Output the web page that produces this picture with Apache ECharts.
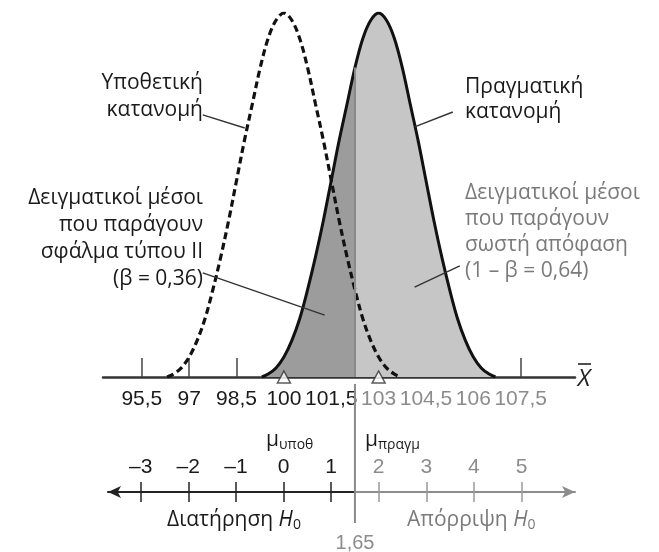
<!DOCTYPE html>
<html>
<head>
<meta charset="utf-8">
<script src="https://cdn.jsdelivr.net/npm/echarts@6/dist/echarts.min.js"></script>
<style>
  html, body { margin: 0; padding: 0; background: #fff; }
  #main { width: 659px; height: 552px; }
</style>
</head>
<body>
<div id="main"></div>
<script>
// υποθετική κατανομή (διακεκομμένη), μέσος 100
var hypX = [96.3, 96.5, 96.75, 97, 97.25, 97.5, 97.75, 98, 98.25, 98.5, 98.75, 99, 99.25, 99.5, 99.75, 100,
  100.25, 100.5, 100.75, 101, 101.25, 101.5, 101.75, 102, 102.25, 102.5, 102.75, 103, 103.25, 103.5, 103.7]
var hypY = [0, 0.8, 2.5, 5.5, 10, 16, 24, 33, 43, 54, 65, 75, 85, 93, 98, 100,
  98, 93, 85, 75, 65, 54, 43, 33, 24, 16, 10, 5.5, 2.5, 0.8, 0]
// πραγματική κατανομή (συνεχής), μέσος 103
var actX = [99.3, 99.5, 99.75, 100, 100.25, 100.5, 100.75, 101, 101.25, 101.5, 101.75, 102, 102.25, 102.5, 102.75, 103,
  103.25, 103.5, 103.75, 104, 104.25, 104.5, 104.75, 105, 105.25, 105.5, 105.75, 106, 106.25, 106.5, 106.7]
var actY = [0, 0.8, 2.5, 5.5, 10, 16, 24, 33, 43, 54, 65, 75, 85, 93, 98, 100,
  98, 93, 85, 75, 65, 54, 43, 33, 24, 16, 10, 5.5, 2.5, 0.8, 0]

var xTicks = [95.5, 97, 98.5, 100, 101.5, 103, 104.5, 106, 107.5]
var zLeft = [-3, -2, -1, 0, 1]
var zRight = [2, 3, 4, 5]
var means = [100, 103]
var critZ = 1.5        // where the line sits in the picture
var critLabel = '1,65'
var critX = 102.25     // same place on the X̄ scale (is in actX)

var myChart = echarts.init(document.getElementById('main'))

function zip(xs, ys) {
  return xs.map(function (x, i) { return [x, ys[i]] })
}

var all = zip(actX, actY)
var cut = actX.indexOf(critX)
var leftPart = all.slice(0, cut + 1)
var rightPart = all.slice(cut)

var numFont = 'Liberation Sans'
var txtFont = 'Open Sans'

function txt(x, y, s, align, color) {
  return {
    type: 'text', x: x, y: y,
    style: {
      text: s, fill: color || '#1a1a1a', font: '21px "' + txtFont + '"',
      textAlign: align, textVerticalAlign: 'middle'
    }
  }
}

// μ με δείκτη, H με δείκτη 0
function sub(x, y, main, low, color) {
  return {
    type: 'text', x: x, y: y,
    style: {
      text: '{h|' + main + '}{s|' + low + '}', textAlign: 'left', textVerticalAlign: 'middle',
      rich: {
        h: { fontSize: 21, lineHeight: 24, fontFamily: txtFont, fill: color },
        s: { fontSize: 14, lineHeight: 10, verticalAlign: 'bottom', fontFamily: txtFont, fill: color }
      }
    }
  }
}

function decision(x, y, word, color) {
  return {
    type: 'text', x: x, y: y,
    style: {
      text: '{a|' + word + ' }{h|H}{s|0}', textAlign: 'left', textVerticalAlign: 'middle',
      rich: {
        a: { fontSize: 21, lineHeight: 24, fontFamily: txtFont, fill: color },
        h: { fontSize: 21, lineHeight: 24, fontFamily: txtFont, fontStyle: 'italic', fill: color },
        s: { fontSize: 14, lineHeight: 10, verticalAlign: 'bottom', fontFamily: txtFont, fill: color }
      }
    }
  }
}

var zAxisBase = {
  type: 'value', position: 'top', splitLine: { show: false }
}

var option = {
  animation: false,
  grid: [
    { left: 103, width: 472, top: 13, height: 364, outerBoundsMode: 'none', containLabel: false },
    { left: 108, width: 247, top: 492, height: 30, outerBoundsMode: 'none', containLabel: false },
    { left: 355, width: 220, top: 492, height: 30, outerBoundsMode: 'none', containLabel: false },
    { left: 103, width: 472, top: 384, height: 139, outerBoundsMode: 'none', containLabel: false }
  ],
  xAxis: [
    {
      type: 'value', gridIndex: 0, min: 94.27, max: 109.22,
      axisLine: { onZero: false, lineStyle: { color: '#333', width: 2.5 } },
      axisTick: { inside: true, length: 19, customValues: xTicks, lineStyle: { color: '#444', width: 1.5 } },
      axisLabel: {
        customValues: xTicks, margin: 12,
        formatter: function (v) {
          var s = String(v).replace('.', ',')
          return v < critX ? '{d|' + s + '}' : '{g|' + s + '}'
        },
        rich: {
          d: { color: '#1a1a1a', fontSize: 21, fontFamily: numFont },
          g: { color: '#8c8c8c', fontSize: 21, fontFamily: numFont }
        }
      },
      splitLine: { show: false }
    },
    Object.assign({}, zAxisBase, {
      gridIndex: 1, min: -3.687, max: critZ + 0.002,
      axisLine: { onZero: false, symbol: ['arrow', 'none'], symbolSize: [9, 13], lineStyle: { color: '#222', width: 2 } },
      axisTick: { customValues: zLeft, length: 10, lineStyle: { color: '#222', width: 1.5 } },
      axisLabel: {
        customValues: zLeft, margin: 14, color: '#1a1a1a', fontSize: 21, fontFamily: numFont,
        formatter: function (v) { return v < 0 ? '–' + Math.abs(v) : String(v) }
      }
    }),
    Object.assign({}, zAxisBase, {
      gridIndex: 1, min: -3.687, max: critZ + 0.002,
      axisLine: { show: false, onZero: false },
      axisTick: { inside: true, customValues: zLeft, length: 10, lineStyle: { color: '#222', width: 1.5 } },
      axisLabel: { show: false }
    }),
    Object.assign({}, zAxisBase, {
      gridIndex: 2, min: critZ + 0.002, max: 6.124,
      axisLine: { onZero: false, symbol: ['none', 'arrow'], symbolSize: [9, 13], lineStyle: { color: '#8c8c8c', width: 2 } },
      axisTick: { customValues: zRight, length: 10, lineStyle: { color: '#999', width: 1.5 } },
      axisLabel: { customValues: zRight, margin: 14, color: '#8c8c8c', fontSize: 21, fontFamily: numFont }
    }),
    Object.assign({}, zAxisBase, {
      gridIndex: 2, min: critZ + 0.002, max: 6.124,
      axisLine: { show: false, onZero: false },
      axisTick: { inside: true, customValues: zRight, length: 10, lineStyle: { color: '#999', width: 1.5 } },
      axisLabel: { show: false }
    }),
    { type: 'value', gridIndex: 3, min: 94.27, max: 109.22, show: false }
  ],
  yAxis: [
    { type: 'value', gridIndex: 0, min: 0, max: 100, show: false },
    { type: 'value', gridIndex: 1, min: 0, max: 1, show: false },
    { type: 'value', gridIndex: 2, min: 0, max: 1, show: false },
    { type: 'value', gridIndex: 3, min: 0, max: 1, show: false }
  ],
  series: [
    {
      // περιοχή β (σφάλμα τύπου II)
      type: 'line', data: leftPart, smooth: 0.35, showSymbol: false, silent: true, z: 1,
      lineStyle: { width: 0 },
      areaStyle: { color: '#9c9c9c', opacity: 1 }
    },
    {
      // περιοχή 1-β
      type: 'line', data: rightPart, smooth: 0.35, showSymbol: false, silent: true, z: 1,
      lineStyle: { width: 0 },
      areaStyle: { color: '#c6c6c6', opacity: 1 },
      markLine: {
        silent: true, symbol: ['none', 'none'], label: { show: false },
        lineStyle: { color: '#8a8a8a', width: 2, type: 'solid' },
        data: [[{ coord: [critX, 0] }, { coord: [critX, actY[cut]] }]]
      }
    },
    {
      type: 'line', data: zip(hypX, hypY), smooth: 0.35, showSymbol: false, silent: true, z: 3,
      lineStyle: { color: '#111', width: 3.2, type: [7, 4] }
    },
    {
      type: 'line', data: all, smooth: 0.35, showSymbol: false, silent: true, z: 4,
      lineStyle: { color: '#111', width: 3 },
      markLine: {
        silent: true, symbol: ['none', 'none'], label: { show: false },
        lineStyle: { color: '#333', width: 1.4, type: 'solid' },
        data: [
          [{ coord: [97.43, 72.0] }, { coord: [98.76, 68.4] }],
          [{ coord: [97.43, 28.6] }, { coord: [101.29, 17.0] }],
          [{ coord: [105.35, 72.8] }, { coord: [104.14, 68.7] }],
          [{ coord: [105.57, 30.5] }, { coord: [104.14, 24.7] }]
        ]
      }
    },
    {
      type: 'scatter', data: means.map(function (m) { return [m, 0] }), z: 6, silent: true,
      symbol: 'triangle', symbolSize: [13, 12], clip: false,
      itemStyle: { color: '#fff', borderColor: '#333', borderWidth: 1.5 }
    },
    {
      // κρίσιμη τιμή κάτω από τον άξονα
      type: 'line', xAxisIndex: 5, yAxisIndex: 3, data: [[critX, 0], [critX, 1]],
      showSymbol: false, silent: true, lineStyle: { color: '#8a8a8a', width: 2 }
    }
  ],
  graphic: [
    txt(203, 83, 'Υποθετική', 'right'),
    txt(203, 110, 'κατανομή', 'right'),
    txt(203, 198, 'Δειγματικοί μέσοι', 'right'),
    txt(203, 225, 'που παράγουν', 'right'),
    txt(203, 252, 'σφάλμα τύπου II', 'right'),
    txt(203, 279, '(β = 0,36)', 'right'),
    txt(465, 87, 'Πραγματική', 'left'),
    txt(465, 112, 'κατανομή', 'left'),
    txt(465, 193, 'Δειγματικοί μέσοι', 'left', '#7a7a7a'),
    txt(465, 219, 'που παράγουν', 'left', '#7a7a7a'),
    txt(465, 245, 'σωστή απόφαση', 'left', '#7a7a7a'),
    txt(465, 271, '(1 – β = 0,64)', 'left', '#7a7a7a'),
    {
      type: 'text', x: 584, y: 379,
      style: { text: 'X', fill: '#222', font: 'italic 24px "' + txtFont + '"', textAlign: 'center', textVerticalAlign: 'middle' }
    },
    { type: 'line', shape: { x1: 578, y1: 364, x2: 591, y2: 364 }, style: { stroke: '#222', lineWidth: 1.6 } },
    sub(266, 440, 'μ', 'υποθ', '#1a1a1a'),
    sub(365, 440, 'μ', 'πραγμ', '#1a1a1a'),
    decision(167, 520, 'Διατήρηση', '#1a1a1a'),
    decision(407, 520, 'Απόρριψη', '#7a7a7a'),
    {
      type: 'text', x: 355, y: 543,
      style: { text: critLabel, fill: '#8c8c8c', font: '20px "' + numFont + '"', textAlign: 'center', textVerticalAlign: 'middle' }
    }
  ]
}

myChart.setOption(option)
</script>
</body>
</html>
